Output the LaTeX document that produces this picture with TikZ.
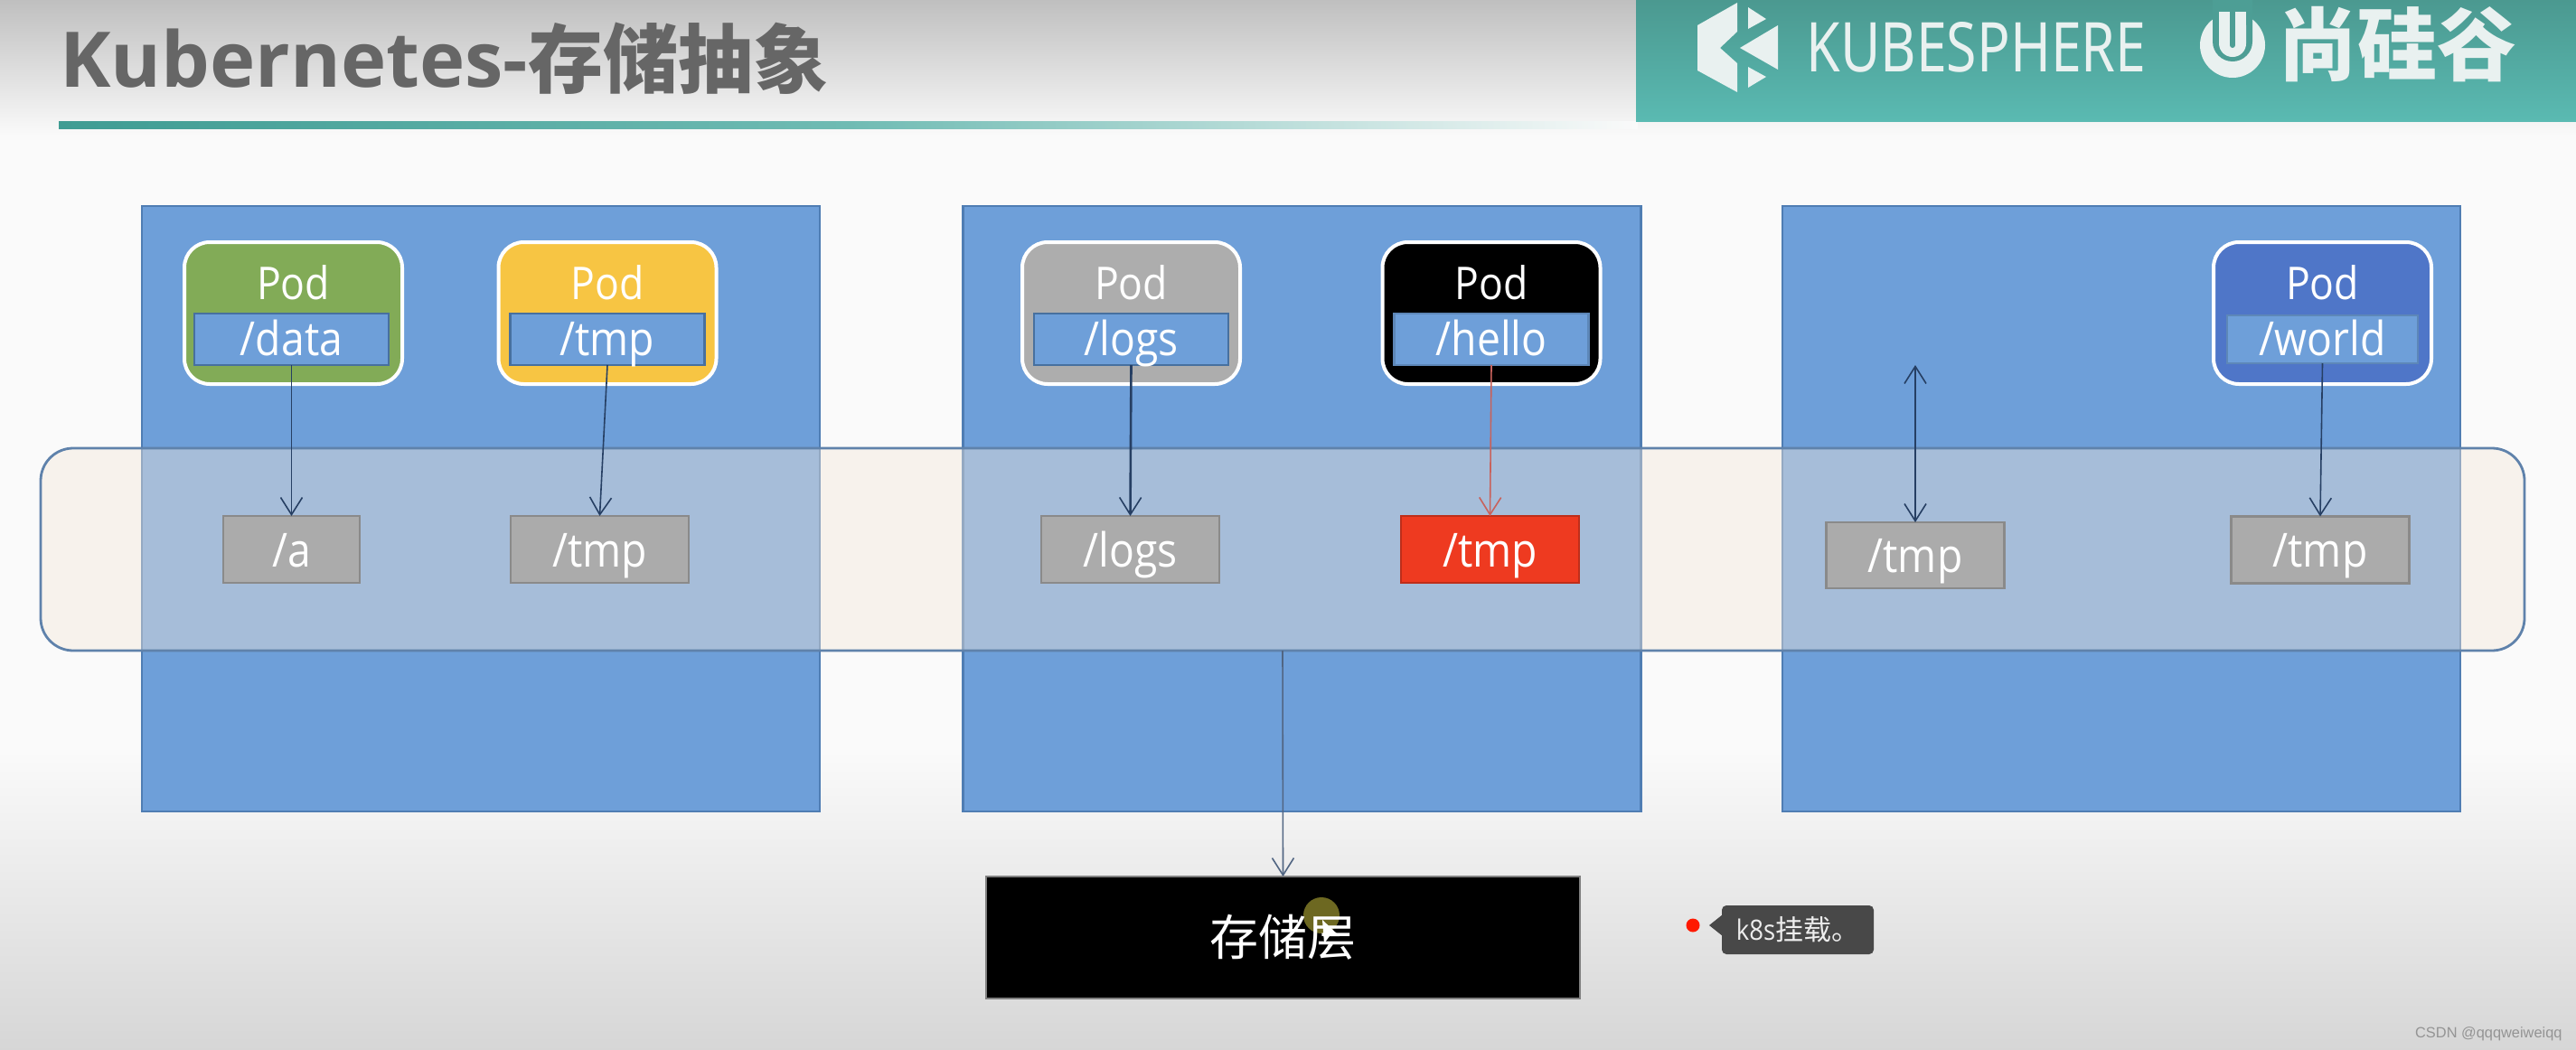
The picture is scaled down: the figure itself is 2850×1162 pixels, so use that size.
\documentclass[tikz,border=0pt]{standalone}
\usepackage{graphicx}
\usepackage{fontspec}
\setmainfont{Open Sans}
\newfontfamily\bodyfont[FakeStretch=.89]{Open Sans}
\newfontfamily\cjk{Noto Sans CJK SC}
\newfontfamily\logofont{Noto Sans}
\newfontfamily\markfont{Liberation Sans}
\usetikzlibrary{arrows.meta}
\definecolor{boxblue}{HTML}{6E9FD9}
\definecolor{boxedge}{HTML}{4F7DB3}
\definecolor{bandfill}{RGB}{245,231,217}
\definecolor{bandedge}{HTML}{5F82AB}
\definecolor{innerblue}{HTML}{6E9FD9}
\definecolor{inneredge}{HTML}{47709F}
\definecolor{podgreen}{HTML}{82AB57}
\definecolor{podyellow}{HTML}{F7C543}
\definecolor{podgray}{HTML}{ADADAD}
\definecolor{podblue}{HTML}{4F76C8}
\definecolor{taggray}{HTML}{ABABAB}
\definecolor{tagedge}{HTML}{8A8A8A}
\definecolor{tagred}{HTML}{EE3A20}
\definecolor{arrownavy}{HTML}{263F63}
\definecolor{arrowred}{HTML}{C8625C}
\definecolor{titlegray}{HTML}{666666}
\definecolor{bannertop}{HTML}{4B9990}
\definecolor{bannerbot}{HTML}{5ABAB2}
\definecolor{logowhite}{HTML}{E9F1F0}
\definecolor{tipgray}{HTML}{484848}
\definecolor{bgmid}{HTML}{FAFAFA}
\definecolor{ruleleft}{HTML}{3F9C93}
\definecolor{rulemid}{HTML}{6FBBB3}
\tikzset{
  x=0.5pt, y=-0.5pt,
  size/.style 2 args={minimum width=#1*0.5pt, minimum height=#2*0.5pt, inner sep=0pt, outer sep=0pt},
  host/.style={draw=boxedge, fill=boxblue, line width=1.4pt, size={750}{670}},
  band/.style={draw=bandedge, fill=bandfill, fill opacity=.42, line width=1.4pt, rounded corners=18pt, size={2748}{224}},
  podcard/.style={draw=white, fill=#1, line width=2pt, rounded corners=14pt, size={241}{157}},
  podname/.style={anchor=base, text=white, font=\bodyfont\fontsize{25}{27}\selectfont, inner sep=0pt},
  mount/.style={draw=inneredge, fill=innerblue, line width=1.2pt, size={215}{57}, text=white,
     font=\bodyfont\fontsize{26}{28}\selectfont, text height=21pt, text depth=3.5pt},
  tag/.style={draw=tagedge, fill=taggray, line width=1.2pt, size={197}{74}, text=white,
     font=\bodyfont\fontsize{26}{28}\selectfont, text height=22pt, text depth=3pt},
  link/.style={draw=arrownavy, line width=.8pt, -{Straight Barb[length=9.5pt,width=12pt,line width=.8pt]}},
}
\newcommand{\podunit}[5]{%
  \node[podcard=#3] (#1card) at (#2,346.5) {};
  \node[podname] (#1name) at (#2,331) {Pod};
  \node[mount,#4] (#1path) at (#2,375.5) {#5};
}
\begin{document}
\begin{tikzpicture}
\useasboundingbox (0,0) rectangle (2850,1162);
% page background
\fill[top color=black!25, bottom color=bgmid] (0,0) rectangle (2850,150);
\fill[bgmid] (0,150) rectangle (2850,830);
\fill[top color=bgmid, bottom color=black!16] (0,830) rectangle (2850,1162);
% header
\node[anchor=base west, inner sep=0pt, text=titlegray, font=\fontsize{42.5}{46}\selectfont\bfseries] (title) at (66,96)
  {Kubernetes-{\cjk\bfseries\fontsize{41.5}{46}\selectfont 存储抽象}};
\fill[left color=ruleleft, right color=bgmid, middle color=rulemid] (65,134) rectangle (1812,142);
\fill[top color=bannertop, bottom color=bannerbot] (1810,0) rectangle (2850,134);
\fill[logowhite] (1922,3) -- (1878,28) -- (1878,78) -- (1922,102) -- (1922,70) -- (1903,53) -- (1922,35) -- cycle;
\fill[logowhite] (1967,28) -- (1925,53) -- (1967,77) -- cycle;
\fill[logowhite] (1934,8) -- (1954,21) -- (1934,32) -- cycle;
\fill[logowhite] (1934,74) -- (1954,85) -- (1934,97) -- cycle;
\node[inner sep=0pt, text=logowhite, font=\logofont\fontsize{38}{40}\selectfont] (kube) at (2186.5,52) {\scalebox{.8}[1]{KUBESPHERE}};
\fill[logowhite] (2470,50) circle (18pt);
\fill[bannertop!85!bannerbot] (2448,0) -- (2448,46) arc[start angle=180, end angle=360, radius=11pt] -- (2492,0) -- cycle;
\fill[logowhite, rounded corners=7.4pt] (2455,13) -- (2455,63) -- (2485,63) -- (2485,13) -- cycle;
\fill[logowhite] (2455,13) rectangle (2485,30);
\draw[bannertop!85!bannerbot, line width=3pt, line cap=round] (2470,12) -- (2470,50);
\node[inner sep=0pt, text=logowhite, font=\cjk\bfseries\fontsize{44}{46}\selectfont] (brand) at (2652,49) {尚硅谷};
% hosts
\node[host] (hostA) at (532,563) {};
\node[host] (hostB) at (1440.5,563) {};
\node[host] (hostC) at (2347,563) {};
% band
\node[band] (bandnode) at (1419,608) {};
% pods
\podunit{data}{324.5}{podgreen}{xshift=-1pt}{/data}
\podunit{tmp}{672}{podyellow}{}{/tmp}
\podunit{logs}{1251.5}{podgray}{}{/logs}
\podunit{hello}{1650}{black}{draw=innerblue!85!black}{/hello}
\podunit{world}{2569.5}{podblue}{draw=innerblue!85!black,size={211}{53}}{/world}
% tags
\node[tag, size={151}{74}] (ta) at (322.5,608) {/a};
\node[tag] (tb) at (663.5,608) {/tmp};
\node[tag] (tc) at (1250.5,608) {/logs};
\node[tag, fill=tagred, draw=tagred!80!black] (td) at (1648.5,608) {/tmp};
\node[tag, size={197}{73}] (te) at (2119,614.5) {/tmp};
\node[tag] (tf) at (2567,608.5) {/tmp};
% storage
\node[fill=black, draw=black!50, line width=.6pt, size={657}{135}, text=white,
  font=\cjk\fontsize{27}{30}\selectfont,
  path picture={\fill[olive!70!black] ([shift={(42.5,-24.5)}]path picture bounding box.center) circle (10pt);}]
  (storage) at (1419.5,1037.5) {存储层};
% connectors
\coordinate (free) at (2119,404);
\draw[link] (datapath.south) -- (ta.north);
\draw[link] (tmppath.south) -- (tb.north);
\draw[link, line width=1.3pt] (logspath.south) -- (tc.north);
\draw[link, draw=arrowred] (hellopath.south) -- (td.north);
\draw[link, {Straight Barb[length=9.5pt,width=12pt,line width=.8pt]}-{Straight Barb[length=9.5pt,width=12pt,line width=.8pt]}] (free) -- (te.north);
\draw[link] (worldpath.south) -- (tf.north);
\draw[link, draw=arrownavy!80!white] (bandnode.south) -- (storage.north);
% pointer
\fill[white] (1463,1018) -- (1465,1044) -- (1471,1036) -- (1482,1036) -- cycle;
% comment marker
\fill[red!80!orange] (1873,1024) circle (3.75pt);
\node[fill=tipgray, rounded corners=2.5pt, size={168}{54}, text=white!93!black,
  font=\bodyfont\fontsize{15.5}{17}\selectfont] (tip) at (1989,1029) {k8s{\cjk 挂载。}};
\fill[tipgray] (1906,1012) -- (1891,1024) -- (1906,1036) -- cycle;
% watermark
\node[anchor=east, inner sep=0pt, text=black!42, font=\markfont\fontsize{8.2}{10}\selectfont] (mark) at (2835,1144) {CSDN @qqqweiweiqq};
\end{tikzpicture}
\end{document}
